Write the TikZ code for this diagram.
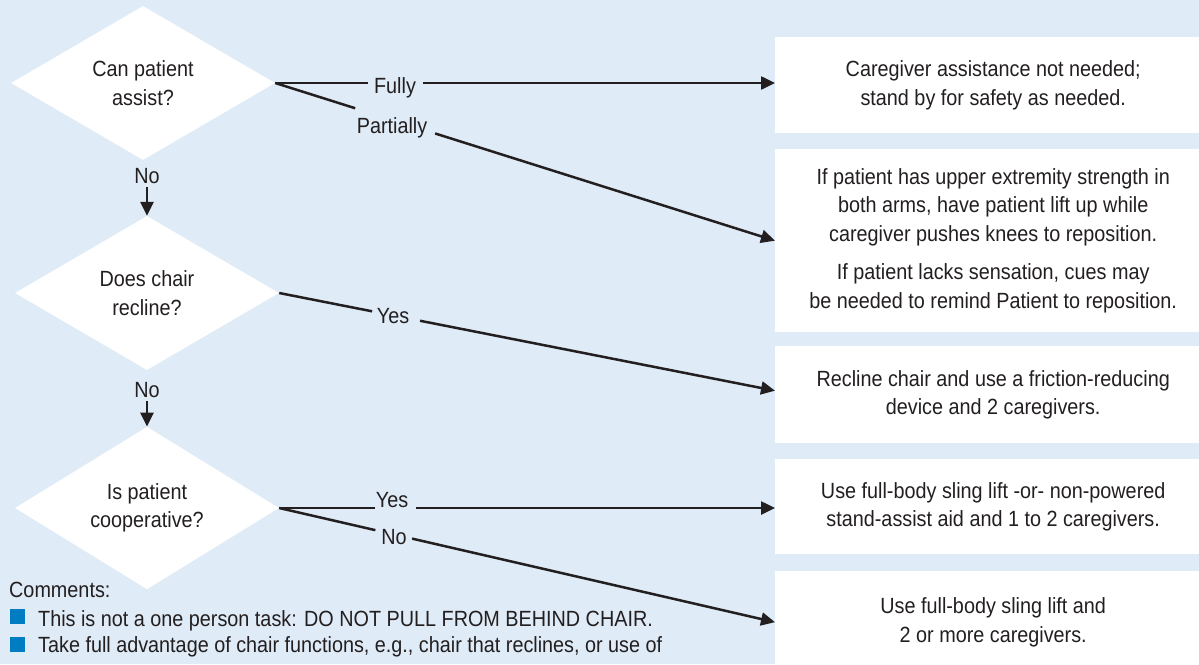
\documentclass[tikz,border=0pt]{standalone}
\usepackage{fontspec}
\setmainfont{Liberation Sans}[FakeStretch=0.9]
\usetikzlibrary{shapes.geometric,arrows.meta,calc}
\definecolor{bg}{RGB}{223,235,246}
\definecolor{ink}{RGB}{35,31,32}
\definecolor{bul}{RGB}{0,124,194}
\begin{document}
\begin{tikzpicture}[x=1pt,y=-1pt,
  every node/.style={font=\fontsize{22}{28.5}\selectfont, text=ink},
  dec/.style={diamond, fill=white, minimum width=264pt, minimum height=154pt, inner sep=0pt, align=center},
  outbox/.style={fill=white, minimum width=436pt, anchor=north west, align=center, inner sep=0pt},
  conn/.style={draw=ink, line width=2.5pt},
  arr/.style={conn, -{Triangle[length=14pt,width=13pt]}},
  lbl/.style={inner sep=0pt, anchor=base},
  downlbl/.style={inner xsep=0pt, inner ysep=3.5pt, anchor=base},
  bullet/.style={fill=bul, minimum size=15pt, inner sep=0pt}]
\useasboundingbox (0,0) rectangle (1199,664);
\clip (0,0) rectangle (1199,664);
\fill[bg] (0,0) rectangle (1199,664);

% decisions
\node[dec] (d1) at (143,83) {Can patient\\assist?};
\node[dec] (d2) at (147,293) {Does chair\\recline?};
\node[dec] (d3) at (147,508) {Is patient\\cooperative?};

% outcome boxes
\node[outbox, minimum height=96pt] (b1) at (775,37)
  {Caregiver assistance not needed;\\stand by for safety as needed.};
\node[outbox, minimum height=183pt] (b2) at (775,149)
  {If patient has upper extremity strength in\\both arms, have patient lift up while\\caregiver pushes knees to reposition.\\[10pt]If patient lacks sensation, cues may\\be needed to remind Patient to reposition.};
\node[outbox, minimum height=97pt] (b3) at (775,346)
  {Recline chair and use a friction-reducing\\device and 2 caregivers.};
\node[outbox, minimum height=95pt] (b4) at (775,459)
  {Use full-body sling lift -or- non-powered\\stand-assist aid and 1 to 2 caregivers.};
\node[outbox, minimum height=102pt] (b5) at (775,571)
  {Use full-body sling lift and\\2 or more caregivers.};

% branch labels
\node[lbl] (lfully) at (395,93) {Fully};
\node[lbl] (lpart) at (392,133) {Partially};
\node[lbl] (lyes2) at (393,323) {Yes};
\node[lbl] (lyes3) at (392,507) {Yes};
\node[lbl] (lno3) at (394,544) {No};
\node[downlbl] (no1) at (147,183) {No};
\node[downlbl] (no2) at (147,397) {No};

% targets
\coordinate (t1) at (b1.west |- d1.east);
\coordinate (t3) at ($(b3.west)+(0,-4)$);
\coordinate (t4) at (b4.west |- d3.east);

% connectors
\draw[conn] (d1.east) -- ($(d1.east)!0.186!(t1)$);
\draw[arr] ($(d1.east)!0.296!(t1)$) -- (t1);
\draw[conn] (d1.east) -- ($(d1.east)!0.16!(b2.west)$);
\draw[arr] ($(d1.east)!0.32!(b2.west)$) -- (b2.west);
\draw[conn] (d2.east) -- ($(d2.east)!0.1875!(t3)$);
\draw[arr] ($(d2.east)!0.284!(t3)$) -- (t3);
\draw[conn] (d3.east) -- ($(d3.east)!0.194!(t4)$);
\draw[arr] ($(d3.east)!0.276!(t4)$) -- (t4);
\draw[conn] (d3.east) -- ($(d3.east)!0.194!(b5.west)$);
\draw[arr] ($(d3.east)!0.268!(b5.west)$) -- (b5.west);
\draw[arr] (no1.south) -- (d2.north);
\draw[arr] (no2.south) -- (d3.north);

% comments
\node[lbl, anchor=base west] (com) at (9,597) {Comments:};
\node[bullet] (s1) at (17.5,616.5) {};
\node[bullet] (s2) at (17.5,644.5) {};
\node[lbl, anchor=base west] (c1) at (38,626) {This is not a one person task: DO NOT PULL FROM BEHIND CHAIR.};
\node[lbl, anchor=base west] (c2) at (38,652) {Take full advantage of chair functions, e.g., chair that reclines, or use of};
\end{tikzpicture}
\end{document}
